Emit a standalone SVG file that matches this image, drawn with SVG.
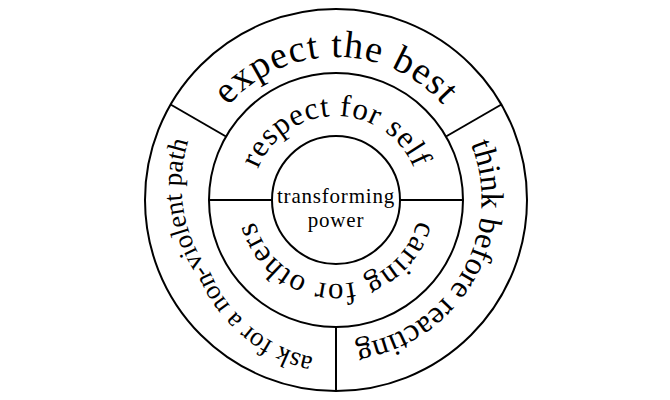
<svg xmlns="http://www.w3.org/2000/svg" xmlns:xlink="http://www.w3.org/1999/xlink" width="670" height="400" viewBox="0 0 670 400">
  <style>
    .ring { fill: none; stroke: #000; stroke-width: 2; }
    .div { stroke: #000; stroke-width: 2; fill: none; }
    .lbl { font-family: "Liberation Serif", "DejaVu Serif", serif; fill: #000; }
    .outer { font-size: 34px; }
    .mid { font-size: 31px; letter-spacing: 1px; }
    .center { font-size: 21px; letter-spacing: 0.8px; }
  </style>
  <defs>
    <path id="pTopOuter" d="M 336 343 A 143 143 0 1 1 336 57 A 143 143 0 1 1 336 343"/>
    <path id="pRightOuter" d="M 210.43 127.5 A 145 145 0 1 1 461.57 272.5 A 145 145 0 1 1 210.43 127.5"/>
    <path id="pLeftOuter" d="M 461.57 127.5 A 146 146 0 1 1 210.43 272.5 A 146 146 0 1 1 461.57 127.5"/>
    <path id="pTopMid" d="M 336 284 A 84 84 0 1 1 336 116 A 84 84 0 1 1 336 284"/>
    <path id="pBotMid" d="M 336 116 A 84 84 0 1 1 336 284 A 84 84 0 1 1 336 116"/>
  </defs>
  <rect width="670" height="400" fill="#fff"/>
  <g id="rings">
    <circle class="ring" cx="336" cy="200" r="191"/>
    <circle class="ring" cx="336" cy="200" r="127"/>
    <circle class="ring" cx="336" cy="200" r="64"/>
  </g>
  <g id="connectors">
    <line class="div" x1="226" y1="136.5" x2="170.6" y2="104.5"/>
    <line class="div" x1="446" y1="136.5" x2="501.4" y2="104.5"/>
    <line class="div" x1="336" y1="327" x2="336" y2="391"/>
    <line class="div" x1="209" y1="200" x2="272" y2="200"/>
    <line class="div" x1="400" y1="200" x2="463" y2="200"/>
  </g>
  <g id="node-expect">
    <text class="lbl outer" style="font-size:38px;letter-spacing:1.2px"><textPath xlink:href="#pTopOuter" href="#pTopOuter" startOffset="50%" text-anchor="middle">expect the best</textPath></text>
  </g>
  <g id="node-think">
    <text class="lbl outer" style="font-size:32px"><textPath xlink:href="#pRightOuter" href="#pRightOuter" startOffset="50%" text-anchor="middle">think before reacting</textPath></text>
  </g>
  <g id="node-ask">
    <text class="lbl outer" style="font-size:27px"><textPath xlink:href="#pLeftOuter" href="#pLeftOuter" startOffset="50%" text-anchor="middle">ask for a non-violent path</textPath></text>
  </g>
  <g id="node-respect">
    <text class="lbl mid"><textPath xlink:href="#pTopMid" href="#pTopMid" startOffset="50%" text-anchor="middle">respect for self</textPath></text>
  </g>
  <g id="node-caring">
    <text class="lbl mid"><textPath xlink:href="#pBotMid" href="#pBotMid" startOffset="50%" text-anchor="middle">caring for others</textPath></text>
  </g>
  <g id="node-center">
    <text class="lbl center" x="336" y="203" text-anchor="middle">transforming</text>
    <text class="lbl center" x="336" y="227" text-anchor="middle">power</text>
  </g>
</svg>
